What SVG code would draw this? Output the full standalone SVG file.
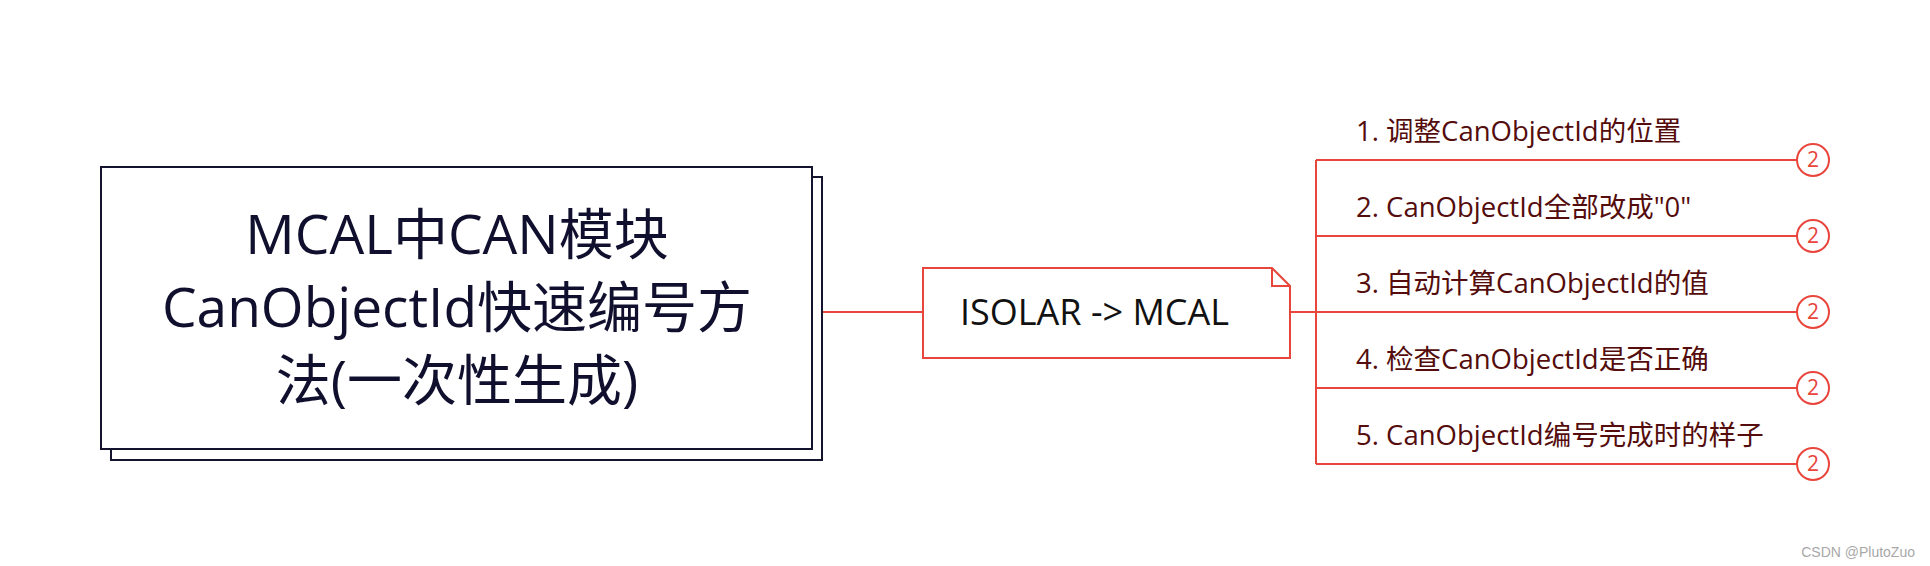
<svg xmlns="http://www.w3.org/2000/svg" width="1930" height="566" viewBox="0 0 1930 566">
<style>
.title{font-family:"Open Sans","Noto Sans CJK SC",sans-serif;font-size:55px;fill:#10102e;text-anchor:middle}
.note{font-family:"Open Sans","Noto Sans CJK SC",sans-serif;font-size:36px;fill:#111}
.lbl{font-family:"Open Sans","Noto Sans CJK SC",sans-serif;font-size:27.5px;fill:#540c0c}
.num{font-family:"Open Sans",sans-serif;font-size:21px;fill:#e8453c;text-anchor:middle}
.red{stroke:#e8453c;stroke-width:2;fill:none}
.badge{stroke:#e8453c;stroke-width:2;fill:#fff}
</style>
<rect width="1930" height="566" fill="#fff"/>
<g id="connectors">
<line class="red" x1="822" y1="312" x2="923" y2="312"/>
<line class="red" x1="1290" y1="312" x2="1316" y2="312"/>
<line class="red" x1="1316" y1="160" x2="1316" y2="464"/>
<line class="red" x1="1316" y1="160" x2="1797" y2="160"/>
<line class="red" x1="1316" y1="236" x2="1797" y2="236"/>
<line class="red" x1="1316" y1="312" x2="1797" y2="312"/>
<line class="red" x1="1316" y1="388" x2="1797" y2="388"/>
<line class="red" x1="1316" y1="464" x2="1797" y2="464"/>
</g>
<g id="root">
<rect x="111" y="177" width="711" height="283" fill="#fff" stroke="#14142e" stroke-width="2"/>
<rect x="101" y="167" width="711" height="282" fill="#fff" stroke="#14142e" stroke-width="2"/>
<text class="title" x="457" y="254">MCAL中CAN模块</text>
<text class="title" x="457" y="327">CanObjectId快速编号方</text>
<text class="title" x="457" y="400">法(一次性生成)</text>
</g>
<g id="note">
<path class="red" d="M923 268 H1272 L1290 286 V358 H923 Z" fill="#fff"/>
<path class="red" d="M1272 268 V286 H1290"/>
<text class="note" x="960" y="325">ISOLAR -&gt; MCAL</text>
</g>
<g id="item1">
<text class="lbl" x="1356" y="141">1. 调整CanObjectId的位置</text>
<circle class="badge" cx="1813" cy="160" r="16"/>
<text class="num" x="1813" y="167">2</text>
</g>
<g id="item2">
<text class="lbl" x="1356" y="217">2. CanObjectId全部改成"0"</text>
<circle class="badge" cx="1813" cy="236" r="16"/>
<text class="num" x="1813" y="243">2</text>
</g>
<g id="item3">
<text class="lbl" x="1356" y="293">3. 自动计算CanObjectId的值</text>
<circle class="badge" cx="1813" cy="312" r="16"/>
<text class="num" x="1813" y="319">2</text>
</g>
<g id="item4">
<text class="lbl" x="1356" y="369">4. 检查CanObjectId是否正确</text>
<circle class="badge" cx="1813" cy="388" r="16"/>
<text class="num" x="1813" y="395">2</text>
</g>
<g id="item5">
<text class="lbl" x="1356" y="445">5. CanObjectId编号完成时的样子</text>
<circle class="badge" cx="1813" cy="464" r="16"/>
<text class="num" x="1813" y="471">2</text>
</g>
<text x="1915" y="557" font-family="Liberation Sans, sans-serif" font-size="14" fill="#a8a8a8" text-anchor="end">CSDN @PlutoZuo</text>
</svg>
